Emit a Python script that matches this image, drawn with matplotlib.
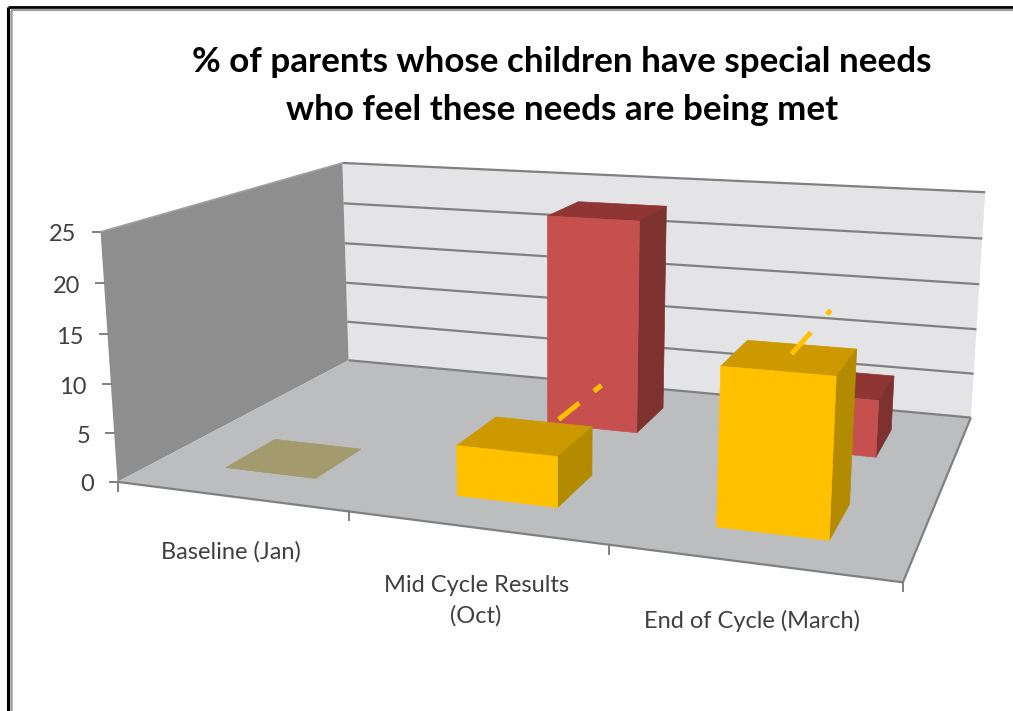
import numpy as np
import matplotlib
matplotlib.use("Agg")
import matplotlib.pyplot as plt
from matplotlib.patches import Polygon

plt.rcParams["font.family"] = ["Lato", "DejaVu Sans"]

TITLE = "% of parents whose children have special needs\nwho feel these needs are being met"
CATEGORIES = ["Baseline (Jan)", "Mid Cycle Results\n(Oct)", "End of Cycle (March)"]
CATEGORY_DROP = [56, 73, 58]   # label distance below the axis, px
Z_TICKS = [0, 5, 10, 15, 20, 25]

# two series, front row and back row
YELLOW_VALUES = [0, 5, 15]
RED_VALUES = [0, 23, 6]

# stray yellow dashes behind the front bars: x offset in category, depth ranges
DASH_X = [None, 0.55, 0.5]
DASH_DEPTHS = [None, [(0.75, 1.0), (1.19, 1.29)], [(0.55, 0.9), (1.22, 1.30)]]

BAR_W = 0.4     # gap width 150%
Z_MAX = 25
X_MAX = 3
Y_MAX = 2

# chart corners (x, depth, z) and where they land in the picture
WORLD_PTS = np.array([[0, 0, 0], [0, 2, 0], [3, 0, 0], [3, 2, 0],
                      [0, 0, 25], [0, 2, 25], [3, 2, 25]], dtype=float)
PIXEL_PTS = np.array([[118, 482], [348, 360], [903, 582], [971, 418],
                      [100, 232], [343, 163], [985, 192]], dtype=float)


def fit_camera(world, pix):
    rows, rhs = [], []
    for (x, y, z), (u, v) in zip(world, pix):
        rows.append([x, y, z, 1, 0, 0, 0, 0, -u * x, -u * y, -u * z])
        rows.append([0, 0, 0, 0, x, y, z, 1, -v * x, -v * y, -v * z])
        rhs += [u, v]
    sol = np.linalg.lstsq(np.array(rows), np.array(rhs), rcond=None)[0]
    return np.append(sol, 1).reshape(3, 4)


CAM = fit_camera(WORLD_PTS, PIXEL_PTS)


def project(x, y, z):
    u, v, w = CAM @ np.array([x, y, z, 1.0])
    return u / w, v / w


def quad(ax, pts, color, zorder=2, edge=True):
    ax.add_patch(Polygon([project(*p) for p in pts], closed=True, facecolor=color,
                         edgecolor=color if edge else "none", linewidth=0.5 if edge else 0,
                         zorder=zorder))


def line3(ax, a, b, color="#808080", lw=1.6, zorder=3):
    ua, va = project(*a)
    ub, vb = project(*b)
    ax.plot([ua, ub], [va, vb], color=color, lw=lw, zorder=zorder, solid_capstyle="butt")


def bar(ax, cat, row, value, front, top, side, zorder):
    x0 = cat + 0.505 - BAR_W / 2
    x1 = x0 + BAR_W
    y0 = row + 0.5 - BAR_W / 2
    y1 = y0 + BAR_W
    quad(ax, [(x0, y0, value), (x1, y0, value), (x1, y1, value), (x0, y1, value)], top, zorder)
    quad(ax, [(x1, y0, 0), (x1, y1, 0), (x1, y1, value), (x1, y0, value)], side, zorder)
    quad(ax, [(x0, y0, 0), (x1, y0, 0), (x1, y0, value), (x0, y0, value)], front, zorder)


fig = plt.figure(figsize=(10.13, 7.11), dpi=100, facecolor="#fefefe")
ax = fig.add_axes([0, 0, 1, 1])
ax.set_xlim(0, 1013)
ax.set_ylim(711, 0)
ax.axis("off")

# slide frame, only top and left are in shot
ax.plot([7.5, 7.5], [711, 7], color="black", lw=2.2, zorder=1, solid_capstyle="butt")
ax.plot([7.5, 1013], [7, 7], color="black", lw=2.0, zorder=1, solid_capstyle="butt")
ax.plot([10.5, 10.5], [711, 10], color="#a0a0a0", lw=1.8, zorder=1, solid_capstyle="butt")
ax.plot([10.5, 1013], [10, 10], color="#a0a0a0", lw=1.6, zorder=1, solid_capstyle="butt")

ax.text(562, 86, TITLE, ha="center", va="center", fontsize=25.2, fontweight="bold",
        color="black", linespacing=1.65)

# walls and floor
quad(ax, [(0, 2, 0), (3, 2, 0), (3, 2, Z_MAX), (0, 2, Z_MAX)], "#e4e4e6", 1, edge=False)
quad(ax, [(0, 0, 0), (0, 2, 0), (0, 2, Z_MAX), (0, 0, Z_MAX)], "#8e8e8e", 1, edge=False)
quad(ax, [(0, 0, 0), (3, 0, 0), (3, 2, 0), (0, 2, 0)], "#bcbdbf", 1, edge=False)

for z in Z_TICKS:
    line3(ax, (0, 2, z), (3, 2, z))
    u, v = project(0, 0, z)
    ax.plot([u - 8, u], [v, v], color="#808080", lw=1.4, zorder=3)
    ax.text(u - 24, v + 3, str(z), ha="right", va="center", fontsize=17, color="#404040")
line3(ax, (0, 0, Z_MAX), (0, 2, Z_MAX), color="#a0a0a0", lw=1.2)
line3(ax, (0, 0, 0), (3, 0, 0))
line3(ax, (3, 0, 0), (3, 2, 0))

# category ticks and labels
for i in range(X_MAX + 1):
    u, v = project(i, 0, 0)
    ax.plot([u, u], [v, v + 9], color="#808080", lw=1.4, zorder=3)
for i, label in enumerate(CATEGORIES):
    u, v = project(i + 0.5, 0, 0)
    ax.text(u + 1, v + CATEGORY_DROP[i], label, ha="center", va="center", fontsize=17,
            color="#404040", linespacing=1.5)

# back row first so the front row covers it
for i, val in enumerate(RED_VALUES):
    if val > 0:
        bar(ax, i, 1, val, "#c5504d", "#8f3533", "#7d3230", 4)
for i, val in enumerate(YELLOW_VALUES):
    if val > 0:
        bar(ax, i, 0, val, "#ffc000", "#cc9a00", "#b38b00", 5)
    else:
        bar(ax, i, 0, val, "#a39b6e", "#a39b6e", "#a39b6e", 5)

# dashes running back from the top of the yellow bars
for i, val in enumerate(YELLOW_VALUES):
    if DASH_X[i] is None:
        continue
    for y0, y1 in DASH_DEPTHS[i]:
        line3(ax, (i + DASH_X[i], y0, val), (i + DASH_X[i], y1, val),
              color="#ffc000", lw=3.6, zorder=6)

fig.savefig("out.png", dpi=100, facecolor=fig.get_facecolor())
